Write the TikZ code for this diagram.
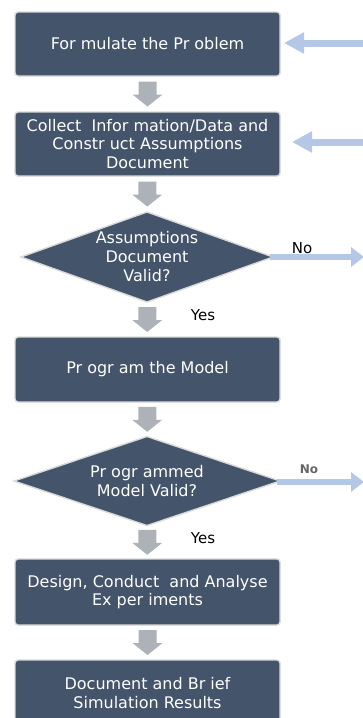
\documentclass[tikz,border=0pt]{standalone}
\usepackage{fontspec}
\setmainfont{DejaVu Sans}
\usetikzlibrary{shapes.geometric,arrows.meta,calc}

\definecolor{slate}{HTML}{44546A}
\definecolor{rim}{HTML}{D9D9D9}
\definecolor{flowgray}{HTML}{ADB1B8}
\definecolor{loopblue}{HTML}{B4C7E7}

\tikzset{
  stepbox/.style={rectangle, rounded corners=3pt, fill=slate, draw=rim, line width=1.4pt,
    minimum width=265pt, minimum height=64pt, inner sep=0pt, outer sep=0pt,
    text=white, align=center, font=\fontsize{16}{18.5}\selectfont},
  decision/.style={diamond, fill=slate, draw=rim, line width=1.4pt,
    inner sep=0pt, outer sep=0pt},
  decisiontext/.style={text=white, align=center, font=\fontsize{16}{19}\selectfont},
  answer/.style={font=\fontsize{15}{18}\selectfont, text=black},
  loopback/.style={draw=loopblue, line width=7pt,
    -{Triangle[length=20pt,width=20pt]}},
  exitarrow/.style={draw=loopblue, line width=6pt,
    -{Triangle[length=13pt,width=19pt]}},
  pics/downarrow/.style={code={
    \fill[flowgray] (-9pt,12.5pt) -- (9pt,12.5pt) -- (9pt,-0.5pt) -- (15pt,-0.5pt)
      -- (0pt,-12.5pt) -- (-15pt,-0.5pt) -- (-9pt,-0.5pt) -- cycle;}}
}

\begin{document}
\begin{tikzpicture}[x=1pt,y=-1pt]
  \useasboundingbox (0,0) rectangle (363,718);
  \begin{scope}
    \clip (0,0) rectangle (363,718);

    % process steps
    \node[stepbox] (formulate) at (147.5,44) {For mulate the Pr oblem};
    \node[stepbox] (collect) at (147.5,144) {Collect\ \ Infor mation/Data and\\Constr uct Assumptions\\Document};
    \node[decision, minimum width=252pt, minimum height=90pt] (valid1) at (147,257) {};
    \node[decisiontext] (valid1text) at (valid1.center) {Assumptions\\Document\\Valid?};
    \node[stepbox, minimum height=65pt] (program) at (147.5,369.5) {Pr ogr am the Model};
    \node[decision, minimum width=266pt, minimum height=89pt] (valid2) at (147,481) {};
    \node[decisiontext] (valid2text) at (valid2.center) {Pr ogr ammed\\Model Valid?};
    \node[stepbox, minimum height=66pt] (design) at (147.5,592) {Design, Conduct\ \ and Analyse\\Ex per iments};
    \node[stepbox, minimum height=66pt] (report) at (147.5,693) {Document and Br ief\\Simulation Results};

    % downward flow
    \pic at ($(formulate.south)!0.5!(collect.north)$) {downarrow};
    \pic at ($(collect.south)!0.5!(valid1.north)$) {downarrow};
    \pic at ($(valid1.south)!0.5!(program.north)$) {downarrow};
    \pic at ($(program.south)!0.5!(valid2.north)$) {downarrow};
    \pic at ($(valid2.south)!0.5!(design.north)$) {downarrow};
    \pic at ($(design.south)!0.5!(report.north)$) {downarrow};

    % returning paths from the right
    \coordinate (back1) at (370,43);
    \coordinate (back2) at (370,142);
    \draw[loopback, shorten >=4pt] (back1) -- (formulate.east |- back1);
    \draw[loopback, shorten >=12pt] (back2) -- (collect.east |- back2);

    % rejection paths
    \coordinate (exit1) at (364,257);
    \coordinate (exit2) at (364,482);
    \draw[exitarrow] ([xshift=-3pt]valid1.east) -- (exit1);
    \draw[exitarrow] ([xshift=-3pt]valid2.east |- exit2) -- (exit2);

    % answer labels
    \node[answer] (no1) at (302,248) {No};
    \node[answer] (yes1) at (203,315) {Yes};
    \node[answer, text=black!60, font=\fontsize{12}{14}\selectfont\bfseries] (no2) at (309,469) {No};
    \node[answer] (yes2) at (203,538) {Yes};
  \end{scope}
\end{tikzpicture}
\end{document}
